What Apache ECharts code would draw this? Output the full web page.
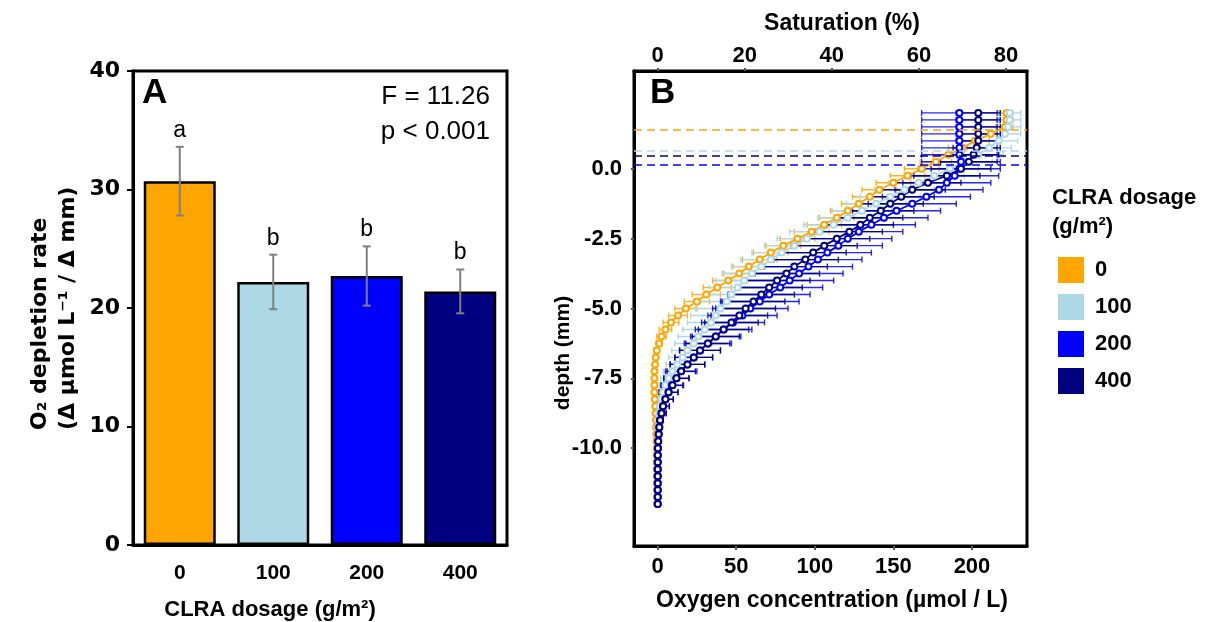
<!DOCTYPE html>
<html><head><meta charset="utf-8">
<script src="https://cdn.jsdelivr.net/npm/echarts@6/dist/echarts.min.js"></script>
<style>html,body{margin:0;padding:0;background:#fff}#c{width:1217px;height:622px}</style>
</head><body><div id="c"></div>
<script>
// ---------- Panel A data ----------
const dosages = ['0', '100', '200', '400'];
const colors = ['#FFA500', '#ADD8E6', '#0000FF', '#000080'];
const rateMean = [30.7, 22.2, 22.7, 21.4];
const rateErr = [2.9, 2.3, 2.5, 1.85];
const letters = ['a', 'b', 'b', 'b'];
const rateTicks = [0, 10, 20, 30, 40];

// ---------- Panel B data ----------
const depth = [
  2, 1.75, 1.5, 1.25, 1, 0.75, 0.5, 0.25,
  0, -0.25, -0.5, -0.75, -1, -1.25, -1.5, -1.75,
  -2, -2.25, -2.5, -2.75, -3, -3.25, -3.5, -3.75,
  -4, -4.25, -4.5, -4.75, -5, -5.25, -5.5, -5.75,
  -6, -6.25, -6.5, -6.75, -7, -7.25, -7.5, -7.75,
  -8, -8.25, -8.5, -8.75, -9, -9.25, -9.5, -9.75,
  -10, -10.25, -10.5, -10.75, -11, -11.25, -11.5, -11.75,
  -12];
const o2_0 = [
  222, 222, 221, 212, 202, 194, 185, 177,
  168, 159, 150, 141, 135, 128, 121, 114,
  106, 98, 89, 80, 72, 65, 58, 52,
  45, 38, 31, 25, 18, 13, 8.5, 5,
  2.5, 1, -0.5, -1.2, -1.6, -2, -2, -2,
  -2, -1.8, -1.5, -1.2, -1, -0.9, -0.8, -0.7,
  -0.6, -0.6, -0.5, -0.5, -0.5, -0.4, -0.4, -0.4,
  -0.4];
const sd_0 = [
  4, 4, 5, 8, 9, 9, 10, 10,
  11, 11, 11, 11, 11, 11, 11, 11,
  11, 11, 11, 11, 11, 11, 10, 10,
  10, 9, 9, 8, 7, 6, 5, 4,
  3, 2, 1.5, 1, 1, 1, 1, 1,
  1, 1, 1, 1, 1, 1, 1, 1,
  1, 1, 1, 1, 1, 1, 1, 1,
  1];
const o2_100 = [
  224, 224, 223, 221, 217, 211, 204, 196,
  186, 176, 166, 157, 148, 139, 130, 121,
  112, 103, 95, 87, 79, 72, 66, 60,
  55, 51, 47, 44, 40, 37, 34, 30,
  26, 23, 19, 16, 12.5, 9.5, 7, 5,
  3.5, 2.5, 1.5, 1, 0.6, 0.4, 0.3, 0.2,
  0.1, 0.1, 0.1, 0.1, 0.1, 0.1, 0.1, 0.1,
  0.1];
const sd_100 = [
  7, 7, 8, 10, 12, 14, 16, 17,
  18, 19, 19, 19, 19, 19, 19, 19,
  19, 19, 19, 19, 19, 19, 19, 19,
  18, 18, 17, 17, 16, 16, 15, 14,
  13, 12, 10, 9, 7, 6, 5, 4,
  3, 2, 1.5, 1, 1, 1, 1, 1,
  1, 1, 1, 1, 1, 1, 1, 1,
  1];
const o2_200 = [
  192, 192, 192, 192, 192, 192, 192, 193,
  192, 189, 184, 179, 171, 162, 152, 144,
  136, 128, 121, 115, 108, 102, 96, 90,
  84, 78, 71, 65, 59, 54, 48, 42,
  37, 32, 27, 23, 19, 15, 12, 9,
  7, 5, 3.5, 2.5, 1.6, 1.1, 0.7, 0.4,
  0.2, 0.1, 0.1, 0.1, 0.1, 0.1, 0.1, 0.1,
  0.1];
const sd_200 = [
  24, 24, 24, 24, 24, 24, 24, 25,
  26, 28, 28, 28, 28, 28, 28, 28,
  28, 28, 28, 28, 28, 28, 28, 28,
  28, 27, 26, 25, 24, 22, 20, 18,
  16, 15, 13, 12, 11, 10, 8, 7,
  6, 5, 4, 3, 2, 1.5, 1, 1,
  1, 1, 1, 1, 1, 1, 1, 1,
  1];
const o2_400 = [
  204, 204, 204, 204, 204, 203, 201, 198,
  193, 184, 172, 162, 155, 148, 142, 135,
  129, 122, 114, 106, 99, 94, 87, 82,
  76, 71, 66, 61, 56, 52, 47, 42,
  37, 32, 27, 23, 19, 15, 12, 9.5,
  7, 5, 3.5, 2.5, 1.6, 1.1, 0.7, 0.4,
  0.2, 0.1, 0.1, 0.1, 0.1, 0.1, 0.1, 0.1,
  0.1];
const sd_400 = [
  14, 14, 14, 14, 14, 15, 16, 18,
  19, 21, 21, 21, 21, 21, 21, 21,
  21, 21, 21, 21, 21, 21, 21, 21,
  21, 21, 21, 20, 19, 18, 17, 16,
  15, 14, 13, 12, 11, 9, 8, 7,
  6, 5, 4, 3, 2, 1.5, 1, 1,
  1, 1, 1, 1, 1, 1, 1, 1,
  1];
const surfaceDepth = [1.38, 0.66, 0.15, 0.48];
const concTicks = [0, 50, 100, 150, 200];
const satTicks = [0, 20, 40, 60, 80];
const depthTicks = [-10, -7.5, -5, -2.5, 0];

const profiles = [o2_0, o2_100, o2_200, o2_400];
const sds = [sd_0, sd_100, sd_200, sd_400];
const errOpacity = [0.85, 1, 0.85, 0.9];

const FONT = '"Liberation Sans", Arial, sans-serif';
const WIDE = '"DejaVu Sans", sans-serif';

const chart = echarts.init(document.getElementById('c'), null, {renderer: 'canvas'});

function errA(params, api) {
  const i = params.dataIndex;
  const m = api.value(1), e = api.value(2);
  const top = api.coord([api.value(0), m + e]);
  const bot = api.coord([api.value(0), m - e]);
  const st = {stroke: '#808080', lineWidth: 2};
  return {type: 'group', children: [
    {type: 'line', shape: {x1: top[0], y1: top[1], x2: bot[0], y2: bot[1]}, style: st},
    {type: 'line', shape: {x1: top[0] - 4, y1: top[1], x2: top[0] + 4, y2: top[1]}, style: st},
    {type: 'line', shape: {x1: bot[0] - 4, y1: bot[1], x2: bot[0] + 4, y2: bot[1]}, style: st},
    {type: 'text', x: top[0], y: top[1] - 5, style: {text: letters[i], fill: '#000', fontSize: 23, fontFamily: FONT, align: 'center', verticalAlign: 'bottom'}}
  ]};
}
function errB(color, op) {
  return function (params, api) {
    const c = api.value(0), d = api.value(1), s = api.value(2);
    const p1 = api.coord([c - s, d]), p2 = api.coord([c + s, d]);
    const st = {stroke: color, lineWidth: 1.4, opacity: op};
    return {type: 'group', children: [
      {type: 'line', shape: {x1: p1[0], y1: p1[1], x2: p2[0], y2: p2[1]}, style: st},
      {type: 'line', shape: {x1: p1[0], y1: p1[1] - 3, x2: p1[0], y2: p1[1] + 3}, style: st},
      {type: 'line', shape: {x1: p2[0], y1: p2[1] - 3, x2: p2[0], y2: p2[1] + 3}, style: st}
    ]};
  };
}

const series = [];
series.push({
  type: 'bar', xAxisIndex: 0, yAxisIndex: 0, barWidth: 72,
  data: rateMean.map((v, i) => ({value: v, itemStyle: {color: colors[i]}})),
  itemStyle: {borderColor: '#000', borderWidth: 2.5}, silent: true
});
series.push({
  type: 'custom', xAxisIndex: 0, yAxisIndex: 0, renderItem: errA,
  data: rateMean.map((v, i) => [i, v, rateErr[i]]), z: 5, silent: true
});
dosages.forEach((d, k) => {
  series.push({
    name: 'err' + d, type: 'custom', xAxisIndex: 1, yAxisIndex: 1,
    renderItem: errB(colors[k], errOpacity[k]), encode: {x: 0, y: 1},
    data: depth.map((dp, i) => [profiles[k][i], dp, sds[k][i]]), z: 2, silent: true
  });
});
dosages.forEach((d, k) => {
  series.push({
    name: d, type: 'line', xAxisIndex: 1, yAxisIndex: 1,
    data: depth.map((dp, i) => [profiles[k][i], dp]),
    symbol: 'emptyCircle', symbolSize: 6, showSymbol: true,
    lineStyle: {color: colors[k], width: 1.8},
    itemStyle: {color: colors[k], borderWidth: 1},
    z: 3, silent: true,
    markLine: {
      silent: true, symbol: ['none', 'none'], label: {show: false},
      lineStyle: {color: colors[k], type: [8, 5], width: 1.6},
      data: [{yAxis: surfaceDepth[k]}]
    }
  });
});

const option = {
  animation: false,
  textStyle: {fontFamily: FONT},
  grid: [
    {left: 133, top: 71, width: 374, height: 474, show: true, borderColor: '#000', borderWidth: 3, outerBoundsMode: 'none'},
    {left: 634, top: 71, width: 393, height: 475, show: true, borderColor: '#000', borderWidth: 3, outerBoundsMode: 'none'}
  ],
  xAxis: [
    {gridIndex: 0, type: 'category', data: dosages,
      axisLine: {lineStyle: {color: '#000', width: 3}}, axisTick: {show: false},
      axisLabel: {fontSize: 21, fontWeight: 'bold', color: '#000', margin: 18, fontFamily: FONT}},
    {gridIndex: 1, type: 'value', min: -15, max: 235, position: 'bottom',
      axisLine: {onZero: false, lineStyle: {color: '#000', width: 3}},
      axisTick: {show: true, customValues: concTicks, length: 4, lineStyle: {color: '#555', width: 2}},
      axisLabel: {customValues: concTicks, fontSize: 22, fontWeight: 'bold', color: '#000', margin: 10, fontFamily: FONT},
      splitLine: {show: false}},
    {gridIndex: 1, type: 'value', min: -5.42, max: 84.82, position: 'top',
      axisLine: {onZero: false, lineStyle: {color: '#000', width: 3}},
      axisTick: {show: true, customValues: satTicks, length: 3, lineStyle: {color: '#555', width: 2}},
      axisLabel: {customValues: satTicks, fontSize: 22, fontWeight: 'bold', color: '#000', margin: 4, fontFamily: FONT},
      splitLine: {show: false}}
  ],
  yAxis: [
    {gridIndex: 0, type: 'value', min: 0, max: 40, interval: 10,
      axisLine: {show: true, lineStyle: {color: '#000', width: 3}},
      axisTick: {show: true, length: 6, lineStyle: {color: '#000', width: 2}},
      axisLabel: {fontSize: 22, fontWeight: 'bold', color: '#000', margin: 13, fontFamily: WIDE},
      splitLine: {show: false}},
    {gridIndex: 1, type: 'value', min: -13.5, max: 3.5,
      axisLine: {show: true, onZero: false, lineStyle: {color: '#000', width: 3}},
      axisTick: {show: true, customValues: depthTicks, length: 3, lineStyle: {color: '#555', width: 2}},
      axisLabel: {customValues: depthTicks, formatter: v => Number(v).toFixed(1), fontSize: 22, fontWeight: 'bold', color: '#000', margin: 12, fontFamily: FONT},
      splitLine: {show: false}}
  ],
  legend: {
    data: dosages.map((d, i) => ({name: d, icon: 'rect', itemStyle: {color: colors[i], borderWidth: 0}})),
    orient: 'vertical', left: 1053, top: 252, itemWidth: 26, itemHeight: 26, itemGap: 11,
    selectedMode: false,
    textStyle: {fontSize: 22, fontWeight: 'bold', color: '#000', fontFamily: FONT, padding: [0, 0, 0, 6]}
  },
  graphic: [
    {type: 'text', x: 142, y: 93.5, style: {text: 'A', fontSize: 35, fontWeight: 'bold', fontFamily: FONT, fill: '#000', verticalAlign: 'middle'}},
    {type: 'text', x: 650, y: 93.5, style: {text: 'B', fontSize: 35, fontWeight: 'bold', fontFamily: FONT, fill: '#000', verticalAlign: 'middle'}},
    {type: 'text', x: 490, y: 97, style: {text: 'F = 11.26', fontSize: 26, fontFamily: FONT, fill: '#000', align: 'right', verticalAlign: 'middle'}},
    {type: 'text', x: 490, y: 132, style: {text: 'p < 0.001', fontSize: 26, fontFamily: FONT, fill: '#000', align: 'right', verticalAlign: 'middle'}},
    {type: 'text', x: 40, y: 430, rotation: Math.PI / 2, style: {text: 'O₂ depletion rate', fontSize: 22, fontWeight: 'bold', fontFamily: WIDE, fill: '#000', align: 'left', verticalAlign: 'middle'}},
    {type: 'text', x: 68, y: 430, rotation: Math.PI / 2, style: {text: '(Δ µmol L⁻¹ / Δ mm)', fontSize: 22, fontWeight: 'bold', fontFamily: WIDE, fill: '#000', align: 'left', verticalAlign: 'middle'}},
    {type: 'text', x: 270, y: 610, style: {text: 'CLRA dosage (g/m²)', fontSize: 22, fontWeight: 'bold', fontFamily: FONT, fill: '#000', align: 'center', verticalAlign: 'middle'}},
    {type: 'text', x: 842, y: 24, style: {text: 'Saturation (%)', fontSize: 23, fontWeight: 'bold', fontFamily: FONT, fill: '#000', align: 'center', verticalAlign: 'middle'}},
    {type: 'text', x: 832, y: 600.5, style: {text: 'Oxygen concentration (µmol / L)', fontSize: 23, fontWeight: 'bold', fontFamily: FONT, fill: '#000', align: 'center', verticalAlign: 'middle'}},
    {type: 'text', x: 563, y: 353, rotation: Math.PI / 2, style: {text: 'depth (mm)', fontSize: 21, fontWeight: 'bold', fontFamily: FONT, fill: '#000', align: 'center', verticalAlign: 'middle'}},
    {type: 'text', x: 1052, y: 198, style: {text: 'CLRA dosage', fontSize: 22, fontWeight: 'bold', fontFamily: FONT, fill: '#000', align: 'left', verticalAlign: 'middle'}},
    {type: 'text', x: 1052, y: 227, style: {text: '(g/m²)', fontSize: 22, fontWeight: 'bold', fontFamily: FONT, fill: '#000', align: 'left', verticalAlign: 'middle'}}
  ],
  series: series
};
chart.setOption(option);
</script></body></html>
